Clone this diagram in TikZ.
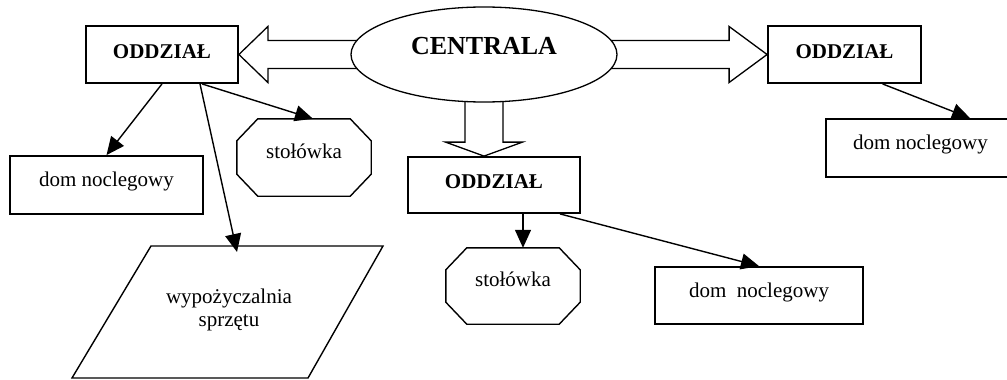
\documentclass[tikz,border=0pt]{standalone}
\usepackage{fontspec}
\setmainfont{Liberation Serif}
\usetikzlibrary{shapes.geometric,arrows.meta,calc,backgrounds}
% octagon drawn round a named rectangular node, corners cut by 21pt x 22pt
\newcommand\canteenoutline[1]{%
  \draw[line width=1.4pt, line join=miter]
    ($(#1.north west)+(21,0)$) -- ($(#1.north east)+(-21,0)$)
    -- ($(#1.north east)+(0,22)$) -- ($(#1.south east)+(0,-22)$)
    -- ($(#1.south east)+(-21,0)$) -- ($(#1.south west)+(21,0)$)
    -- ($(#1.south west)+(0,-22)$) -- ($(#1.north west)+(0,22)$) -- cycle;}
\begin{document}
\begin{tikzpicture}[x=1pt,y=-1pt,
  box/.style={draw, line width=1.8pt, rectangle, inner sep=0pt},
  branch/.style={box, font=\fontsize{21}{24}\selectfont\bfseries,
    text height=14pt, text depth=6.5pt},
  place/.style={box, font=\fontsize{21}{24}\selectfont,
    text height=14pt, text depth=10.6pt},
  canteen/.style={rectangle, inner sep=0pt, minimum width=134pt,
    minimum height=77pt, font=\fontsize{21}{24}\selectfont,
    text height=14pt, text depth=13pt},
  link/.style={line width=1.4pt, -{Triangle[length=18pt,width=16pt]}},
  fat/.style={draw, line width=1.3pt, fill=white, line join=miter},
]
\useasboundingbox (0,0) rectangle (1007,380);

% head office
\node[ellipse, draw, line width=1.3pt, fill=white, inner sep=0pt,
  minimum width=266pt, minimum height=95pt,
  font=\fontsize{26}{30}\selectfont\bfseries,
  text height=18pt, text depth=18.6pt] (c) at (484,54.5) {CENTRALA};

% branches
\node[branch, minimum width=152pt, minimum height=57pt] (o1) at (162,54.5) {ODDZIAŁ};
\node[branch, minimum width=153pt, minimum height=57pt] (o2) at (844.5,54.5) {ODDZIAŁ};
\node[branch, minimum width=172pt, minimum height=56pt] (o3) at (494,185) {ODDZIAŁ};

% facilities
\node[place, minimum width=193pt, minimum height=58pt] (d1) at (106.5,185) {dom noclegowy};
\node[place, minimum width=189pt, minimum height=58pt] (d2) at (920.5,148) {dom noclegowy};
\node[place, minimum width=208pt, minimum height=57pt] (d3) at (759,295.5) {dom~ noclegowy};
\node[canteen] (s1) at (304,157.5) {stołówka};
\node[canteen, minimum height=76pt] (s2) at (513,286) {stołówka};
\canteenoutline{s1}
\canteenoutline{s2}

% equipment rental (parallelogram)
\coordinate (p1) at (151,246);
\coordinate (p2) at (383,246);
\coordinate (p3) at (308,378);
\coordinate (p4) at (72,378);
\draw[line width=1.4pt, line join=miter] (p1) -- (p2) -- (p3) -- (p4) -- cycle;
\node[font=\fontsize{21}{23.5}\selectfont, align=center] (w) at (229,310)
  {wypożyczalnia\\sprzętu};
\coordinate (wtop) at (237,252);

% thin arrows
\draw[link] (o1.south) -- (d1.north);
\draw[link] ($(o1.south)+(38,0)$) -- (wtop);
\draw[link] ($(o1.south)+(40,0)$) -- ($(s1.north)+(9,0)$);
\draw[link] ($(o2.south)+(38,0)$) -- ($(d2.north)+(49.5,0)$);
\draw[link] ($(o3.south)+(29,0)$) -- ($(s2.north)+(10,0)$);
\draw[link] ($(o3.south)+(66,0)$) -- (d3.north);

% block arrows from the head office
\coordinate (dt) at (c.south |- o3.north);
\begin{scope}[on background layer]
  \draw[fat] ($(c.west)+(12,-14)$) -- ($(o1.east)+(29,-14)$)
    -- ($(o1.east)+(29,-28)$) -- (o1.east) -- ($(o1.east)+(29,28)$)
    -- ($(o1.east)+(29,14)$) -- ($(c.west)+(12,14)$) -- cycle;
  \draw[fat] ($(c.east)+(-12,-14)$) -- ($(o2.west)+(-38,-14)$)
    -- ($(o2.west)+(-38,-28)$) -- (o2.west) -- ($(o2.west)+(-38,28)$)
    -- ($(o2.west)+(-38,14)$) -- ($(c.east)+(-12,14)$) -- cycle;
  \draw[fat] ($(c.south)+(-19,-12)$) -- ($(dt)+(-19,-14)$)
    -- ($(dt)+(-38.5,-14)$) -- (dt) -- ($(dt)+(38.5,-14)$)
    -- ($(dt)+(19,-14)$) -- ($(c.south)+(19,-12)$) -- cycle;
\end{scope}
\end{tikzpicture}
\end{document}
